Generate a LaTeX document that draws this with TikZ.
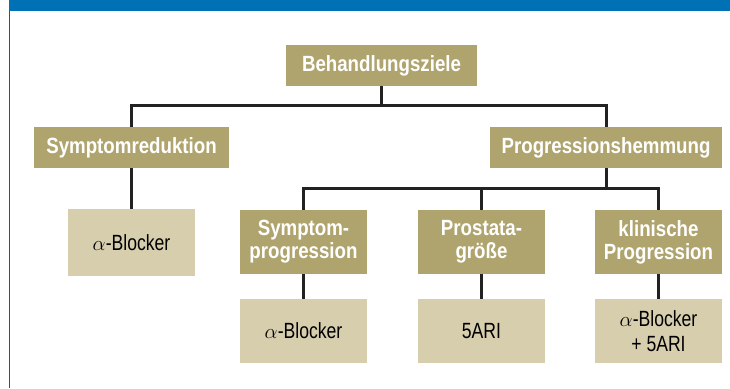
\documentclass[tikz,border=0pt]{standalone}
\usepackage{fontspec}
\newfontfamily\headfont[FakeStretch=0.85]{Liberation Sans}
\newfontfamily\boxfont[FakeStretch=0.8]{Liberation Sans}
\usetikzlibrary{positioning}
\definecolor{khaki}{RGB}{176,164,110}
\definecolor{sand}{RGB}{215,206,174}
\definecolor{barblue}{RGB}{0,113,180}
\definecolor{linegray}{RGB}{34,34,34}

\begin{document}
\begin{tikzpicture}[x=1pt, y=-1pt,
	ziel/.style={fill=khaki, text=white, inner sep=0pt, minimum height=41pt,
		font=\headfont\bfseries\fontsize{22}{23}\selectfont, align=center},
	teil/.style={ziel, minimum width=127pt, minimum height=64pt},
	mittel/.style={fill=sand, text=black, inner sep=0pt, minimum width=127pt, minimum height=64pt,
		font=\boxfont\fontsize{22}{25}\selectfont, align=center},
	verb/.style={draw=linegray, line width=3pt, line join=miter}]
	\useasboundingbox (0,0) rectangle (730,388);
	\fill[barblue] (8.5,0) rectangle (730,11);
	\draw[gray!60!black, line width=1.5pt] (9.5,11) -- (9.5,388);
	\node (ziele) [ziel, minimum width=191pt] at (381.5, 65.5) {Behandlungsziele};
	\node (sred) [ziel, minimum width=195pt] at (131.5, 147.5) {Symptomreduktion};
	\node (phem) [ziel, minimum width=232pt] at (606, 147.5) {Progressionshemmung};
	\node (ablk1) [mittel, minimum height=67pt] at (131.5, 242.5) {$\alpha$-Blocker};
	\node (sprog) [teil] at (303.5, 242) {Symptom-\\progression};
	\node (pgr) [teil] at (481.5, 242) {Prostata-\\größe};
	\node (kprog) [teil] at (658.5, 242) {klinische\\Progression};
	\node (ablk2) [mittel] at (303.5, 331) {$\alpha$-Blocker};
	\node (fari) [mittel] at (481.5, 331) {5ARI};
	\node (kombi) [mittel] at (658.5, 331) {$\alpha$-Blocker\\+ 5ARI};
	\coordinate (bus1) at (381.5, 105);
	\coordinate (bus2) at (606, 188);
	\draw[verb] (ziele.south) -- (bus1);
	\draw[verb] (sred.north) |- (bus1) -| (phem.north);
	\draw[verb] (phem.south) -- (bus2);
	\draw[verb] (sprog.north) |- (bus2) -| (kprog.north);
	\draw[verb] (pgr.north) -- (pgr.north |- bus2);
	\draw[verb] (sred.south) -- (ablk1.north);
	\draw[verb] (sprog.south) -- (ablk2.north);
	\draw[verb] (pgr.south) -- (fari.north);
	\draw[verb] (kprog.south) -- (kombi.north);
\end{tikzpicture}
\end{document}
